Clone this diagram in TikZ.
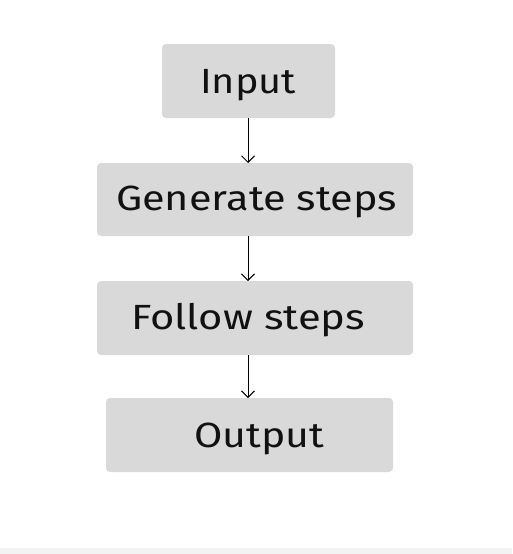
\documentclass[tikz,border=0pt]{standalone}
\usepackage{fontspec}
\setmainfont{Fira Sans}
\usetikzlibrary{arrows.meta}
\definecolor{boxgray}{HTML}{D9D9D9}
\definecolor{stripgray}{HTML}{F3F3F3}
\definecolor{txt}{HTML}{111111}
\tikzset{
  flowbox/.style={fill=boxgray, draw=none, rounded corners=4pt},
  flowlabel/.style={anchor=base west, inner sep=0pt, text=txt, font=\fontsize{35}{40}\selectfont},
  flowarrow/.style={draw=black, line width=1pt, -{Straight Barb[length=6.5pt,width=13pt,line width=1pt]}}
}
\newcommand{\fitw}[2]{\resizebox{#1}{\height}{#2}}
\begin{document}
\begin{tikzpicture}[x=1pt,y=-1pt]
\useasboundingbox (0,0) rectangle (512,554);
\fill[white] (0,0) rectangle (512,554);
\fill[stripgray] (0,548) rectangle (512,554);
% boxes
\path[flowbox] (162,44) rectangle (335,118);
\coordinate (inT) at (248,44); \coordinate (inB) at (248,118);
\path[flowbox] (97,163) rectangle (413,236);
\coordinate (genT) at (248,163); \coordinate (genB) at (248,236);
\path[flowbox] (97,281) rectangle (413,355);
\coordinate (folT) at (248,281); \coordinate (folB) at (248,355);
\path[flowbox] (106,398) rectangle (393,472);
\coordinate (outT) at (248,398);
% labels
\node[flowlabel] (tin) at (200,93) {\fitw{96pt}{Input}};
\node[flowlabel] (tgen) at (116,210) {\fitw{281pt}{Generate steps}};
\node[flowlabel] (tfol) at (131,329) {\fitw{234pt}{Follow steps}};
\node[flowlabel] (tout) at (194,447) {\fitw{130pt}{Output}};
% arrows
\draw[flowarrow] (inB) -- (genT);
\draw[flowarrow] (genB) -- (folT);
\draw[flowarrow] (folB) -- (outT);
\end{tikzpicture}
\end{document}
